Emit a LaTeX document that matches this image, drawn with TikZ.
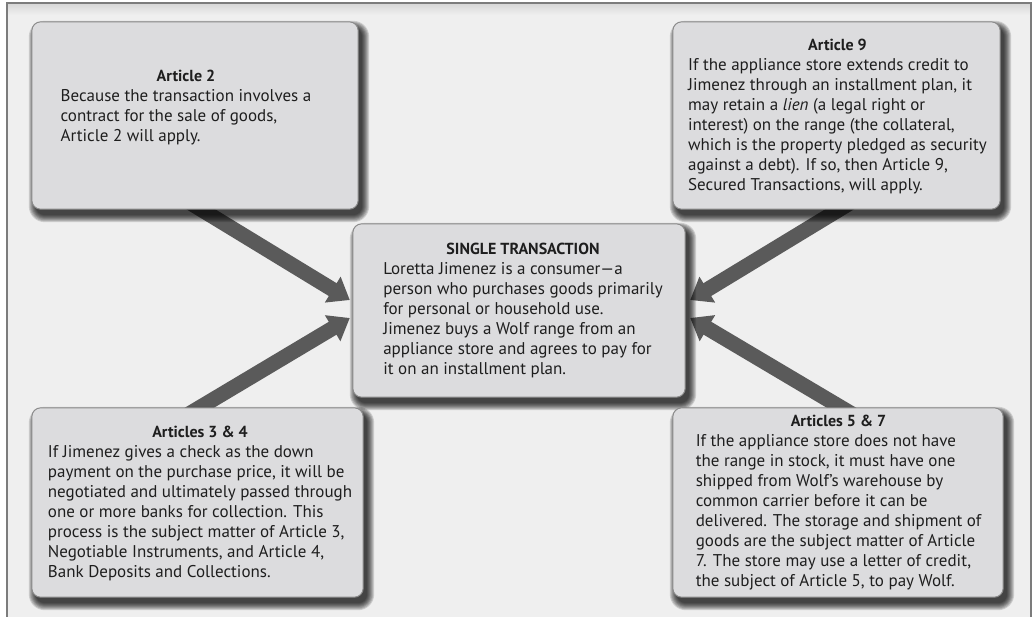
\documentclass[tikz,border=0pt]{standalone}
\usepackage{fontspec}
\setmainfont{PT Sans}
\usetikzlibrary{arrows.meta,calc}

\definecolor{framegray}{HTML}{7C7C7C}
\definecolor{panel}{HTML}{EFEFEF}
\definecolor{boxfill}{HTML}{DCDCDE}
\definecolor{boxline}{HTML}{8A8A8A}
\definecolor{arrowgray}{HTML}{5A5A5A}
\definecolor{ink}{HTML}{1E1E1E}

\tikzset{
  slot/.style={inner sep=0pt},
  cardface/.style={draw=boxline, line width=1pt, fill=boxfill, rounded corners=9pt},
  shadowstep/.style={fill=black, opacity=0.14},
  cardtext/.style={inner sep=0pt, text=ink, font=\fontsize{17}{20}\selectfont},
  flow/.style={draw=arrowgray, line width=15pt,
    -{Triangle[length=20pt,width=29pt]}},
}

% title centred over a left-aligned block of lines
\newcommand{\cardbody}[2]{%
  \begin{tabular}{@{}l@{}}
  \multicolumn{1}{@{}c@{}}{\fontsize{16}{20}\selectfont\bfseries #1}\\
  #2
  \end{tabular}}

% soft drop shadow and face of a card, drawn on the area of a named node
\newcommand{\drawcard}[1]{%
  \foreach \r in {7,6,...,0} {
    \fill[shadowstep, rounded corners=9pt+\r pt]
      ($(#1.south west)+(4-\r,6+\r)$) rectangle ($(#1.north east)+(4+\r,6-\r)$);
  }
  \draw[cardface] (#1.south west) rectangle (#1.north east);}

\begin{document}
\begin{tikzpicture}[x=1pt, y=-1pt]
\useasboundingbox (0,0) rectangle (1035,616);

% outer frame, open at the bottom edge of the page
\fill[white] (0,0) rectangle (1035,616);
\fill[panel] (7,3) rectangle (1031,630);
\fill[top color=black!16, bottom color=panel] (7,3) rectangle (1031,15);
\draw[framegray, line width=1.3pt] (7,640) -- (7,3) -- (1031,3) -- (1031,640);

% card areas
\node[slot, minimum width=326pt, minimum height=187pt] (a2)  at (195,115.5) {};
\node[slot, minimum width=327pt, minimum height=187pt] (a9)  at (836.5,115.5) {};
\node[slot, minimum width=332pt, minimum height=173pt] (ctr) at (519,310.5) {};
\node[slot, minimum width=331pt, minimum height=189pt] (a34) at (197.5,502.5) {};
\node[slot, minimum width=330pt, minimum height=189pt] (a57) at (838,502.5) {};

% arrows into the central transaction, beneath the cards
\draw[flow] ($(a2.south)+(-14,-12)$)  -- ($(ctr.west)+(-3,-10.5)$);
\draw[flow] ($(a34.north)+(-20,13)$)  -- ($(ctr.west)+(-3,7.5)$);
\draw[flow] ($(a9.south)+(23,-12)$)   -- ($(ctr.east)+(5,-10.5)$);
\draw[flow] ($(a57.north)+(25.5,13)$) -- ($(ctr.east)+(5,7.5)$);

% cards
\drawcard{a2}
\drawcard{a9}
\drawcard{ctr}
\drawcard{a34}
\drawcard{a57}

% texts
\node[cardtext] (a2t) at (186,107) {\cardbody{Article 2}{%
Because the transaction involves a\\
contract for the sale of goods,\\
Article 2 will apply.}};

\node[cardtext] (a9t) at (837.5,116.5) {\cardbody{Article 9}{%
If the appliance store extends credit to\\
Jimenez through an installment plan, it\\
may retain a \textit{lien} (a legal right or\\
interest) on the range (the collateral,\\
which is the property pledged as security\\
against a debt). If so, then Article 9,\\
Secured Transactions, will apply.}};

\node[cardtext] (ctrt) at (523,310) {\cardbody{SINGLE TRANSACTION}{%
Loretta Jimenez is a consumer—a\\
person who purchases goods primarily\\
for personal or household use.\\
Jimenez buys a Wolf range from an\\
appliance store and agrees to pay for\\
it on an installment plan.}};

\node[cardtext] (a34t) at (200,503) {\cardbody{Articles 3 \& 4}{%
If Jimenez gives a check as the down\\
payment on the purchase price, it will be\\
negotiated and ultimately passed through\\
one or more banks for collection. This\\
process is the subject matter of Article 3,\\
Negotiable Instruments, and Article 4,\\
Bank Deposits and Collections.}};

\node[cardtext] (a57t) at (838.5,502.5) {\cardbody{Articles 5 \& 7}{%
If the appliance store does not have\\
the range in stock, it must have one\\
shipped from Wolf’s warehouse by\\
common carrier before it can be\\
delivered. The storage and shipment of\\
goods are the subject matter of Article\\
7. The store may use a letter of credit,\\
the subject of Article 5, to pay Wolf.}};
\end{tikzpicture}
\end{document}
